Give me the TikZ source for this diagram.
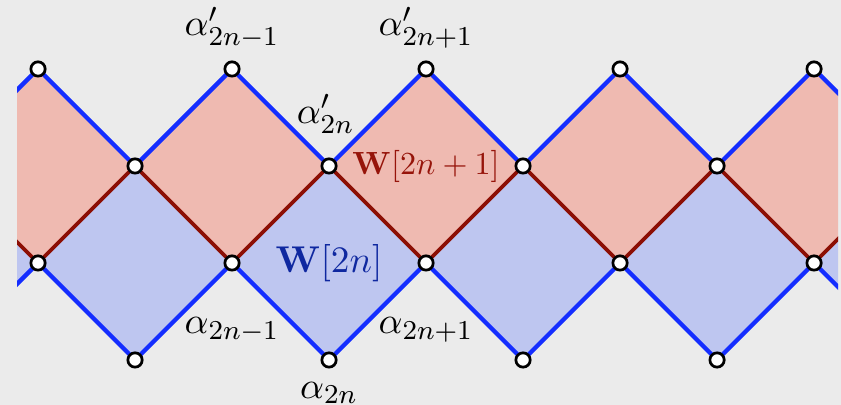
\documentclass[tikz,border=0pt]{standalone}
\usepackage{amsmath, amssymb}
\usepackage{tikz}
\usetikzlibrary{positioning}

\definecolor{bgcol}{RGB}{235,235,235}
\definecolor{oddfill}{RGB}{239,186,177}
\definecolor{evenfill}{RGB}{190,198,240}
\definecolor{wireblue}{RGB}{20,45,255}
\definecolor{wirered}{RGB}{140,15,5}
\definecolor{labred}{RGB}{150,20,10}
\definecolor{labblue}{RGB}{15,40,160}

\begin{document}
\begin{tikzpicture}[font=\fontsize{10.95}{13.6}\selectfont,
    vtx/.style={circle, draw=black, fill=white, line width=0.8pt, inner sep=0pt, minimum size=4.2pt},
    edgeblue/.style={wireblue, line width=1.25pt},
    edgered/.style={wirered, line width=1.1pt}]
    \fill[bgcol] (-0.392,-1.464) rectangle (8.278,2.711);
    \useasboundingbox (-0.392,-1.464) rectangle (8.278,2.711);

    \foreach \x in {-1,...,9} {
        \pgfmathtruncatemacro{\oddx}{mod(\x+2,2)}
        \coordinate (t\x) at (\x,2-\oddx);
        \coordinate (m\x) at (\x,\oddx);
        \coordinate (b\x) at (\x,-\oddx);
    }

    \begin{scope}
        \clip (-0.216,-1.5) rectangle (8.247,2.75);
        \fill[oddfill] (t-1) \foreach \x in {0,...,9} {-- (t\x)} \foreach \x in {9,8,...,-1} {-- (m\x)} -- cycle;
        \fill[evenfill] (m-1) \foreach \x in {0,...,9} {-- (m\x)} \foreach \x in {9,8,...,-1} {-- (b\x)} -- cycle;
        \draw[edgeblue] (t-1) \foreach \x in {0,...,9} {-- (t\x)};
        \draw[edgered] (m-1) \foreach \x in {0,...,9} {-- (m\x)};
        \draw[edgeblue] (b-1) \foreach \x in {0,...,9} {-- (b\x)};
    \end{scope}

    \foreach \x in {0,...,8} {
        \node[vtx] (u\x) at (t\x) {};
        \node[vtx] (d\x) at (b\x) {};
    }

    \node[above=0pt of u2] (ap1) {$\alpha'_{2n-1}$};
    \node[above=0pt of u4] (ap3) {$\alpha'_{2n+1}$};
    \node[above=3.5pt of u3, xshift=-1pt] (ap2) {$\alpha'_{2n}$};
    \node[below=10pt of d2] (a1) {$\alpha_{2n-1}$};
    \node[below=10pt of d4] (a3) {$\alpha_{2n+1}$};
    \node[below=0.5pt of d3] (a2) {$\alpha_{2n}$};
    \node[text=labred, scale=0.86] (wodd) at (4,1) {$\mathbf{W}[2n+1]$};
    \node[text=labblue] (weven) at (3,0) {$\mathbf{W}[2n]$};
\end{tikzpicture}
\end{document}
